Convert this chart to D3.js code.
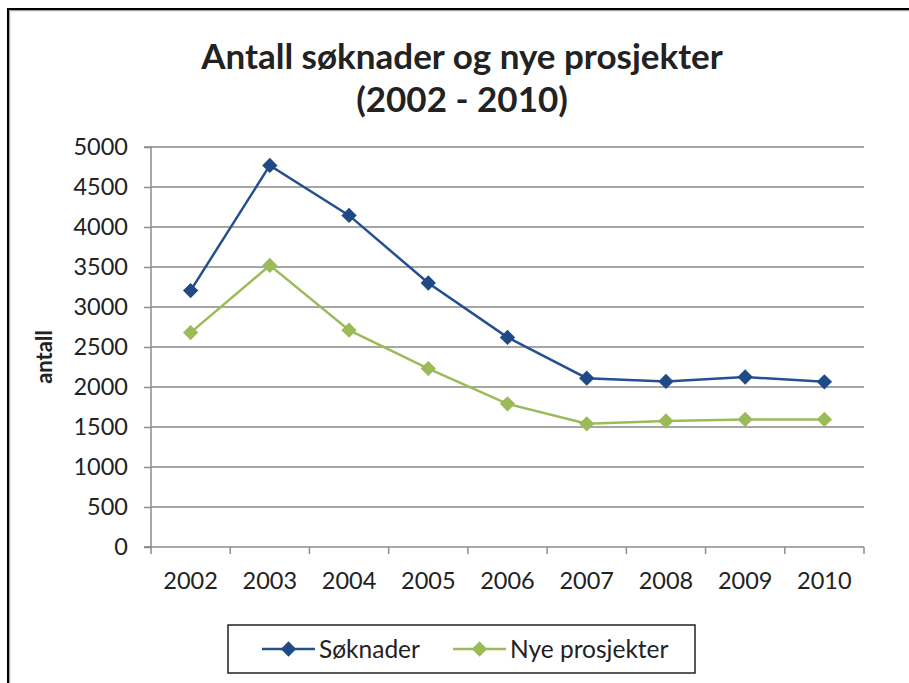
<!DOCTYPE html>
<html>
<head>
<meta charset="utf-8">
<script src="https://cdn.jsdelivr.net/npm/d3@7"></script>
<style>
  body { margin: 0; background: #fff; }
  svg text { font-family: Lato, "Open Sans", sans-serif; fill: #222; }
</style>
</head>
<body>
<div id="chart"></div>
<script>
// data
var years     = ["2002", "2003", "2004", "2005", "2006", "2007", "2008", "2009", "2010"];
var soknader  = [3205, 4770, 4145, 3300, 2620, 2110, 2070, 2125, 2065];
var nyeProsj  = [2680, 3520, 2710, 2230, 1790, 1540, 1575, 1595, 1595];
var yTicks    = [0, 500, 1000, 1500, 2000, 2500, 3000, 3500, 4000, 4500, 5000];
var seriesNames = ["Søknader", "Nye prosjekter"];

var W = 909, H = 683;
var margin = {top: 147, right: 45, bottom: 136, left: 151};
var width  = W - margin.left - margin.right,
    height = H - margin.top - margin.bottom;

var svg = d3.select("#chart").append("svg")
    .attr("width", W).attr("height", H);

svg.append("rect").attr("width", W).attr("height", H).attr("fill", "#fff");

// outer frame (only top + left visible), with a soft grey inner edge
svg.append("path").attr("d", "M9.5," + H + "V10.5H" + W)
    .attr("fill", "none").attr("stroke", "#a8a8a8").attr("stroke-width", 1.5);
svg.append("path").attr("d", "M8," + H + "V9H" + W)
    .attr("fill", "none").attr("stroke", "#000").attr("stroke-width", 2);

// title
var title = svg.append("text")
    .attr("text-anchor", "middle")
    .style("font-weight", "bold").style("font-size", "35px");
title.append("tspan").attr("x", 462).attr("y", 69).text("Antall søknader og nye prosjekter");
title.append("tspan").attr("x", 462).attr("y", 112).text("(2002 - 2010)");

var xScale = d3.scaleBand().domain(years).range([0, width]);
var yScale = d3.scaleLinear().domain([0, 5000]).range([height, 0]);

var g = svg.append("g").attr("transform", "translate(" + margin.left + "," + margin.top + ")");

// gridlines
g.append("g").selectAll("line")
  .data(yTicks.filter(function(d){ return d > 0; }))
  .enter().append("line")
    .attr("x1", 0).attr("x2", width)
    .attr("y1", function(d){ return yScale(d); })
    .attr("y2", function(d){ return yScale(d); })
    .attr("stroke", "#a6a6a6").attr("stroke-width", 2);

// y axis
var yAxis = d3.axisLeft(yScale).tickValues(yTicks).tickFormat(d3.format("d"))
    .tickSize(7).tickPadding(16);
var yAxisEl = g.append("g").call(yAxis);
yAxisEl.select(".domain").attr("stroke", "#8c8c8c").attr("stroke-width", 1.5)
    .attr("d", "M-7,0H0V" + height + "H-7");
yAxisEl.selectAll(".tick line").attr("stroke", "#8c8c8c").attr("stroke-width", 1.5);
yAxisEl.selectAll(".tick text").style("font-size", "23.5px").attr("fill", "#222");

// x axis: ticks on category boundaries
var xAxisEl = g.append("g").attr("transform", "translate(0," + height + ")");
xAxisEl.append("line").attr("x1", -7).attr("x2", width)
    .attr("stroke", "#8c8c8c").attr("stroke-width", 1.5);
xAxisEl.selectAll(".bt").data(years.concat(["end"])).enter().append("line")
    .attr("x1", function(d, i){ return i * xScale.step(); })
    .attr("x2", function(d, i){ return i * xScale.step(); })
    .attr("y1", 0).attr("y2", 7)
    .attr("stroke", "#8c8c8c").attr("stroke-width", 1.5);
xAxisEl.selectAll(".lbl").data(years).enter().append("text")
    .attr("x", function(d){ return xScale(d) + xScale.bandwidth() / 2; })
    .attr("y", 42)
    .attr("text-anchor", "middle")
    .style("font-size", "23.5px")
    .text(function(d){ return d; });

// y title
svg.append("text")
    .attr("transform", "translate(52,357) rotate(-90)")
    .attr("text-anchor", "middle")
    .style("font-weight", "bold").style("font-size", "22px")
    .text("antall");

var colors = ["#24508f", "#9bbb59"];
var markerColors = ["#1f4a85", "#9bbb59"];
var allSeries = [soknader, nyeProsj];

var line = d3.line()
    .x(function(d, i){ return xScale(years[i]) + xScale.bandwidth() / 2; })
    .y(function(d){ return yScale(d); });

var diamond = d3.symbol().type(d3.symbolDiamond2).size(150);

allSeries.forEach(function(s, k) {
  g.append("path").datum(s)
    .attr("d", line)
    .attr("fill", "none")
    .attr("stroke", colors[k]).attr("stroke-width", 2.5);
  g.selectAll(".m" + k).data(s).enter().append("path")
    .attr("d", diamond)
    .attr("transform", function(d, i){
      return "translate(" + (xScale(years[i]) + xScale.bandwidth() / 2) + "," + yScale(d) + ")";
    })
    .attr("fill", markerColors[k]);
});

// legend
var legend = svg.append("g");
legend.append("rect")
    .attr("x", 228).attr("y", 625).attr("width", 467).attr("height", 48)
    .attr("fill", "#fff").attr("stroke", "#222").attr("stroke-width", 1.5);
var legX = [262, 453];
seriesNames.forEach(function(name, k) {
  var lg = legend.append("g").attr("transform", "translate(" + legX[k] + ",649)");
  lg.append("line").attr("x1", 0).attr("x2", 53)
    .attr("stroke", colors[k]).attr("stroke-width", 2.5);
  lg.append("path").attr("d", diamond).attr("transform", "translate(26.5,0)")
    .attr("fill", markerColors[k]);
  lg.append("text").attr("x", 57).attr("y", 9)
    .style("font-size", "24.5px").text(name);
});
</script>
</body>
</html>
